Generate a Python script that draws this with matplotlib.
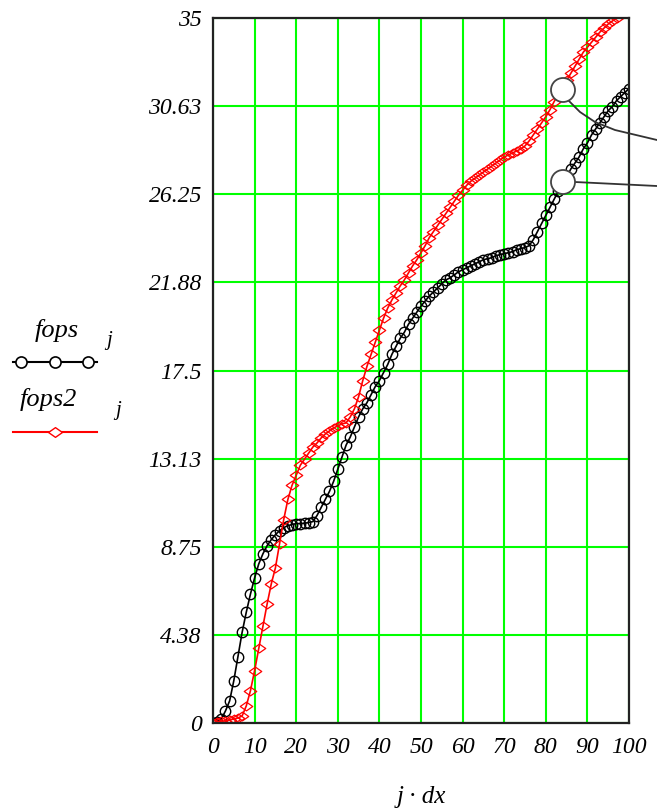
import numpy as np
import matplotlib
matplotlib.use("Agg")
import matplotlib.pyplot as plt
from matplotlib.lines import Line2D
from matplotlib.patches import Circle
from matplotlib.path import Path

# j*dx values, 0..100
jdx = list(range(0, 101))

fops = [
    0, 0.05, 0.2, 0.6, 1.1, 2.1, 3.3, 4.5, 5.5, 6.4,
    7.2, 7.9, 8.4, 8.8, 9.1, 9.35, 9.55, 9.7, 9.8, 9.85,
    9.9, 9.9, 9.92, 9.95, 10.0, 10.3, 10.7, 11.1, 11.5, 12.0,
    12.6, 13.2, 13.8, 14.2, 14.7, 15.2, 15.6, 15.9, 16.3, 16.7,
    17.0, 17.4, 17.8, 18.3, 18.7, 19.1, 19.4, 19.8, 20.1, 20.4,
    20.7, 20.95, 21.2, 21.4, 21.6, 21.8, 22.0, 22.1, 22.25, 22.4,
    22.5, 22.6, 22.7, 22.8, 22.9, 23.0, 23.05, 23.1, 23.2, 23.25,
    23.3, 23.35, 23.4, 23.5, 23.55, 23.6, 23.7, 24.0, 24.4, 24.8,
    25.2, 25.6, 26.0, 26.4, 26.8, 27.1, 27.5, 27.8, 28.1, 28.5,
    28.8, 29.2, 29.5, 29.8, 30.1, 30.4, 30.6, 30.9, 31.1, 31.3,
    31.5,
]

fops2 = [
    0, 0.05, 0.1, 0.1, 0.15, 0.2, 0.25, 0.35, 0.85, 1.6,
    2.6, 3.7, 4.8, 5.9, 6.9, 7.7, 8.9, 10.1, 11.1, 11.8,
    12.3, 12.8, 13.1, 13.4, 13.7, 13.9, 14.15, 14.35, 14.5, 14.65,
    14.75, 14.85, 14.9, 15.2, 15.6, 16.2, 17.0, 17.7, 18.3, 18.9,
    19.5, 20.1, 20.6, 21.0, 21.35, 21.7, 22.0, 22.35, 22.7, 23.0,
    23.35, 23.7, 24.1, 24.4, 24.7, 25.0, 25.3, 25.6, 25.9, 26.2,
    26.45, 26.7, 26.9, 27.05, 27.2, 27.35, 27.5, 27.65, 27.8, 27.95,
    28.1, 28.2, 28.3, 28.4, 28.5, 28.65, 28.9, 29.2, 29.5, 29.8,
    30.1, 30.45, 30.85, 31.2, 31.55, 31.9, 32.25, 32.6, 32.95, 33.3,
    33.55, 33.8, 34.05, 34.3, 34.5, 34.7, 34.85, 35.0, 35.2, 35.4,
    35.6,
]

yticks = [0, 4.375, 8.75, 13.125, 17.5, 21.875, 26.25, 30.625, 35]
ytick_labels = ["0", "4.38", "8.75", "13.13", "17.5", "21.88", "26.25", "30.63", "35"]
xticks = list(range(0, 101, 10))

font = {"family": "Liberation Serif", "style": "italic"}

# wide diamond marker like the mathcad one
diamond = Path([(-1, 0), (0, 0.7), (1, 0), (0, -0.7), (-1, 0)],
               [Path.MOVETO, Path.LINETO, Path.LINETO, Path.LINETO, Path.CLOSEPOLY])

fig = plt.figure(figsize=(6.57, 8.11), dpi=100)
ax = fig.add_axes([0.3242, 0.1085, 0.6332, 0.8693])

ax.plot(jdx, fops, color="black", lw=1.2, marker="o", ms=7.5,
        mfc="none", mec="black", mew=1.0)
ax.plot(jdx, fops2, color="red", lw=1.2, marker=diamond, ms=9,
        mfc="none", mec="red", mew=0.9)

ax.set_xlim(0, 100)
ax.set_ylim(0, 35)
ax.set_xticks(xticks)
ax.set_yticks(yticks)
ax.set_xticklabels([str(v) for v in xticks], fontdict=font, fontsize=17)
ax.set_yticklabels(ytick_labels, fontdict=font, fontsize=17)
ax.tick_params(axis="y", length=0, pad=8)
ax.tick_params(axis="x", length=0, pad=10)
ax.grid(True, color="#00ff00", lw=1.5)
ax.set_axisbelow(True)
for s in ax.spines.values():
    s.set_color("#222222")
    s.set_linewidth(1.6)
ax.set_xlabel("j · dx", fontdict=font, fontsize=18, labelpad=20)

# legend on the left, mathcad style
W, H = 657, 811
def fx(px):
    return px / W
def fy(py):
    return 1 - py / H

fig.text(fx(35), fy(330), "fops", fontdict=font, fontsize=19, va="center")
fig.text(fx(106), fy(340), "j", fontdict=font, fontsize=15, va="center")
fig.add_artist(Line2D([fx(13), fx(97)], [fy(362)] * 2, color="black", lw=1.5,
                      transform=fig.transFigure))
fig.add_artist(Line2D([fx(21), fx(55), fx(88)], [fy(362)] * 3, ls="none",
                      marker="o", ms=8, mfc="white", mec="black", mew=1.2,
                      transform=fig.transFigure))
fig.text(fx(20), fy(400), "fops2", fontdict=font, fontsize=19, va="center")
fig.text(fx(115), fy(410), "j", fontdict=font, fontsize=15, va="center")
fig.add_artist(Line2D([fx(13), fx(97)], [fy(432)] * 2, color="red", lw=1.5,
                      transform=fig.transFigure))
fig.add_artist(Line2D([fx(55)], [fy(432)], ls="none", marker=diamond, ms=10,
                      mfc="white", mec="red", mew=1.0, transform=fig.transFigure))

# trace callouts
fig.add_artist(Line2D([fx(568), fx(580), fx(595), fx(615), fx(657)],
                      [fy(100), fy(112), fy(122), fy(130), fy(140)],
                      color="#333333", lw=1.3, transform=fig.transFigure))
fig.add_artist(Line2D([fx(575), fx(657)], [fy(182), fy(186)],
                      color="#333333", lw=1.3, transform=fig.transFigure))
for cy in (90, 182):
    fig.add_artist(Circle((5.63, (H - cy) / 100), 0.12, transform=fig.dpi_scale_trans,
                          facecolor="white", edgecolor="#444444", lw=1.3,
                          zorder=10))

fig.savefig("out.png", dpi=100)
